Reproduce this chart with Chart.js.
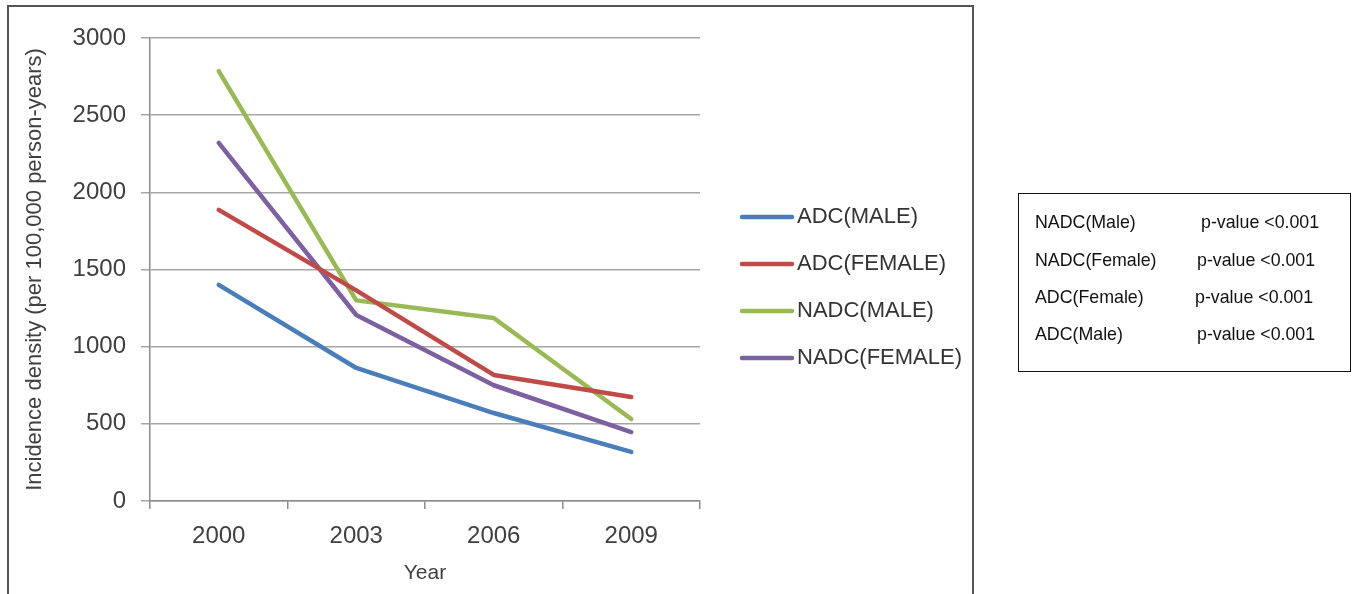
<!DOCTYPE html>
<html>
<head>
<meta charset="utf-8">
<script src="https://cdn.jsdelivr.net/npm/chart.js@4/dist/chart.umd.min.js"></script>
<style>
  html, body { margin: 0; padding: 0; background: #fff; }
  body { width: 1353px; height: 594px; position: relative; overflow: hidden; font-family: "Liberation Sans", Arial, sans-serif; }
  #wrap { position: absolute; left: 0; top: 0; width: 1353px; height: 594px; }
  #frame { position: absolute; left: 7px; top: 5px; width: 967px; height: 600px; border: 2px solid #555; box-sizing: border-box; pointer-events: none; }
  #pbox { position: absolute; left: 1018px; top: 193px; width: 333px; height: 179px; border: 1.5px solid #111; box-sizing: border-box; font-size: 17.8px; color: #111; }
  #pbox .row { position: absolute; left: 16px; white-space: nowrap; }
  #pbox .pv { position: absolute; white-space: nowrap; }
</style>
</head>
<body>
<div id="wrap"><canvas id="c" width="1353" height="594"></canvas></div>
<div id="frame"></div>
<div id="pbox"></div>
<script>
const years = ["2000", "2003", "2006", "2009"];
const adcMale = [1400, 862, 570, 318];
const adcFemale = [1886, 1365, 817, 674];
const nadcMale = [2785, 1300, 1186, 531];
const nadcFemale = [2320, 1205, 750, 447];
const seriesNames = ["ADC(MALE)", "ADC(FEMALE)", "NADC(MALE)", "NADC(FEMALE)"];
const seriesColors = ["#4A7EBB", "#BE4B48", "#98B954", "#7D60A0"];
const yTicks = [0, 500, 1000, 1500, 2000, 2500, 3000];
const boxLabels = ["NADC(Male)", "NADC(Female)", "ADC(Female)", "ADC(Male)"];
const boxValues = ["p-value <0.001", "p-value <0.001", "p-value <0.001", "p-value <0.001"];

// p-value box (HTML text)
const boxTops = [18, 56, 93, 130];
const pvLeft = [182, 178, 176, 178];
const pbox = document.getElementById('pbox');
boxLabels.forEach((lab, i) => {
  const a = document.createElement('div');
  a.className = 'row'; a.style.top = boxTops[i] + 'px'; a.textContent = lab;
  const b = document.createElement('div');
  b.className = 'pv'; b.style.top = boxTops[i] + 'px'; b.style.left = pvLeft[i] + 'px'; b.textContent = boxValues[i];
  pbox.appendChild(a); pbox.appendChild(b);
});

const FONT = "'Liberation Sans', Arial, sans-serif";

const legendPlugin = {
  id: 'sideLegend',
  afterDraw(chart) {
    const ctx = chart.ctx;
    ctx.save();
    ctx.font = "22px " + FONT;
    ctx.textBaseline = 'middle';
    chart.data.datasets.forEach((ds, i) => {
      const y = 217 + i * 47;
      ctx.strokeStyle = ds.borderColor;
      ctx.lineWidth = 4.5;
      ctx.lineCap = 'round';
      ctx.beginPath(); ctx.moveTo(742, y); ctx.lineTo(792, y); ctx.stroke();
      ctx.fillStyle = '#333';
      ctx.fillText(ds.label, 797, y);
    });
    ctx.restore();
  }
};

const data = {
  labels: years,
  datasets: [adcMale, adcFemale, nadcMale, nadcFemale].map((vals, i) => ({
    label: seriesNames[i],
    data: vals,
    borderColor: seriesColors[i],
    backgroundColor: seriesColors[i],
    borderWidth: 4.5,
    pointRadius: 0,
    tension: 0,
    fill: false,
    borderCapStyle: 'round',
    borderJoinStyle: 'round'
  }))
};

new Chart(document.getElementById('c'), {
  type: 'line',
  data,
  options: {
    responsive: false,
    animation: false,
    events: [],
    layout: { padding: { left: 0, top: 38, right: 653, bottom: 0 } },
    plugins: { legend: { display: false }, tooltip: { enabled: false } },
    scales: {
      x: {
        type: 'category',
        offset: true,
        grid: { offset: true, drawOnChartArea: false, drawTicks: true, tickLength: 8, color: '#8c8c8c', lineWidth: 1.5 },
        border: { display: true, color: '#8c8c8c', width: 1.5 },
        ticks: { color: '#404040', font: { size: 24, family: FONT }, padding: 13, maxRotation: 0 },
        title: { display: true, text: 'Year', color: '#404040', font: { size: 21, family: FONT }, padding: { top: 8, bottom: 8 } },
        afterFit: s => { s.height = 93; }
      },
      y: {
        min: 0, max: 3000,
        afterBuildTicks: s => { s.ticks = yTicks.map(v => ({ value: v })); },
        grid: { color: '#a6a6a6', lineWidth: 1.5, tickLength: 9 },
        border: { display: true, color: '#8c8c8c', width: 1.5 },
        ticks: { color: '#404040', font: { size: 24, family: FONT }, padding: 15, callback: v => String(v) },
        title: { display: true, text: 'Incidence density (per 100,000 person-years)', color: '#404040', font: { size: 22, family: FONT }, padding: { top: 22, bottom: 0 } },
        afterFit: s => { s.width = 150; }
      }
    }
  },
  plugins: [legendPlugin]
});
</script>
</body>
</html>
